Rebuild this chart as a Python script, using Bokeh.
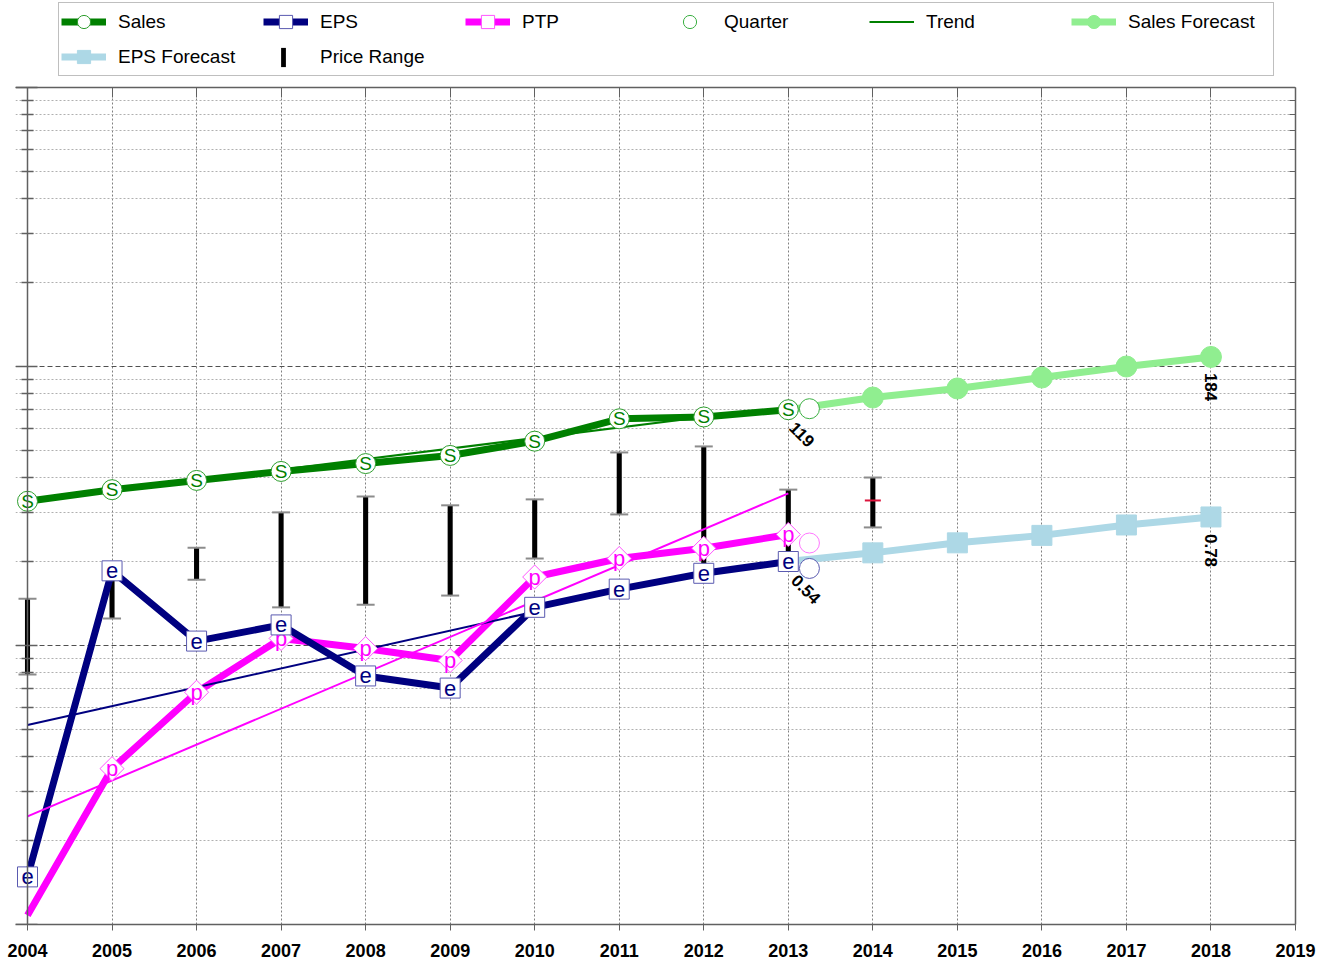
import math
from bokeh.plotting import figure
from bokeh.models import (Range1d, LogScale, LogAxis, LinearAxis, FixedTicker,
                          Legend, LegendItem, CustomJSTickFormatter)
from bokeh.core.properties import value
from bokeh.embed import file_html
from bokeh.resources import INLINE

# ---------------- data ----------------
years = [2004, 2005, 2006, 2007, 2008, 2009, 2010, 2011, 2012, 2013]
sales = [55.9, 61.5, 66.4, 71.5, 76.3, 81.6, 91.8, 110.4, 112.1, 119.0]
eps = [0.04, 0.50, 0.28, 0.32, 0.21, 0.19, 0.37, 0.43, 0.49, 0.54]
ptp = [1.08, 3.62, 6.80, 10.6, 9.75, 8.84, 17.6, 20.5, 22.3, 25.0]

quarter_x = [2013.25]
sales_quarter = [120.0]
eps_quarter = [0.51]
ptp_quarter = [23.3]

fc_years = [2013, 2014, 2015, 2016, 2017, 2018]
sales_fc = [119.0, 131.6, 141.8, 155.2, 170.0, 184.0]
eps_fc = [0.54, 0.58, 0.63, 0.67, 0.73, 0.78]

sales_trend_x = [2004, 2012]
sales_trend = [56.0, 112.0]
eps_trend_x = [2004, 2010]
eps_trend = [0.14, 0.357]
ptp_trend_x = [2004, 2013]
ptp_trend = [2.44, 35.1]

price_years = [2004, 2005, 2006, 2007, 2008, 2009, 2010, 2011, 2012, 2013, 2014]
price_high = [14.7, 19.8, 22.4, 30.0, 34.2, 31.8, 33.4, 49.2, 51.7, 36.2, 40.0]
price_low = [7.87, 12.5, 17.2, 13.7, 14.0, 15.1, 20.5, 29.5, 19.4, 21.4, 26.5]
current_year = [2014]
current_price = [33.1]

year_ticks = list(range(2004, 2020))

# ---------------- colours ----------------
GREEN = "#008000"
NAVY = "#000080"
MAGENTA = "#ff00ff"
LGREEN = "#90ee90"
LBLUE = "#add8e6"
AXIS = "#606060"
FONT = value("Liberation Sans")

# ---------------- layout constants ----------------
W, H = 1329, 964
FRAME_L, FRAME_R, FRAME_B = 15, 1295, 924
TOP_LINE = 87                      # pixel row of the top border (value 1000)
Y_LO, Y_HI = 1, 1000               # bordered value range (3 decades)
px_per_decade = (FRAME_B - TOP_LINE) / math.log10(Y_HI / Y_LO)
y_end = Y_HI * 10 ** (TOP_LINE / px_per_decade)   # frame reaches the canvas top
px_per_year = (FRAME_R - 27) / 15.0
x_start = 2004 - (27 - FRAME_L) / px_per_year

p = figure(width=W, height=H, output_backend="svg", toolbar_location=None,
           x_range=Range1d(x_start, 2019), y_range=Range1d(Y_LO, y_end),
           y_axis_type="log", min_border_left=FRAME_L, min_border_right=W - FRAME_R,
           min_border_top=0, min_border_bottom=H - FRAME_B)
p.outline_line_color = None
p.background_fill_color = "white"
p.border_fill_color = "white"

p.extra_y_ranges = {"sales": Range1d(1.7, 1.7 * y_end), "eps": Range1d(0.027, 0.027 * y_end)}
p.extra_y_scales = {"sales": LogScale(), "eps": LogScale()}

minor = [m * 10 ** e for e in range(0, 3) for m in range(2, 10)]
yticker = FixedTicker(ticks=[1, 10, 100, 1000], minor_ticks=minor)
xticker = FixedTicker(ticks=year_ticks)
blank = CustomJSTickFormatter(code="return ''")

# left axis fixed at 2004
ya = p.yaxis[0]
ya.ticker = yticker
ya.formatter = blank
ya.fixed_location = 2004
ya.bounds = (Y_LO, Y_HI)
ya.major_label_standoff = 0
ya.axis_line_color = AXIS
ya.axis_line_width = 1.5
ya.major_tick_line_color = AXIS
ya.minor_tick_line_color = AXIS
ya.major_tick_line_width = 1.5
ya.minor_tick_line_width = 1.5
ya.major_tick_in = 10
ya.major_tick_out = 12
ya.minor_tick_in = 6
ya.minor_tick_out = 6

# bottom axis
xa = p.xaxis[0]
xa.ticker = xticker
xa.axis_line_color = AXIS
xa.axis_line_width = 1.5
xa.major_tick_line_color = AXIS
xa.major_tick_in = 0
xa.major_tick_out = 6
xa.minor_tick_line_color = None
xa.major_label_text_font = "Liberation Sans"
xa.major_label_text_font_style = "bold"
xa.major_label_text_font_size = "18px"
xa.major_label_text_color = "black"
xa.major_label_standoff = 13

# top border axis (ticks only), fixed on the value 1000
ta = LinearAxis(ticker=xticker, formatter=blank, fixed_location=Y_HI,
                major_label_standoff=0, major_tick_in=10, major_tick_out=0,
                minor_tick_line_color=None, axis_line_color=AXIS,
                axis_line_width=1.5, major_tick_line_color=AXIS)
p.add_layout(ta, "above")

# right axis (ticks only)
ra = LogAxis(ticker=yticker, formatter=blank, bounds=(Y_LO, Y_HI),
             major_label_standoff=0, major_tick_in=6, major_tick_out=0,
             minor_tick_in=6, minor_tick_out=0, axis_line_color=AXIS,
             axis_line_width=1.5, major_tick_line_color=AXIS,
             minor_tick_line_color=AXIS)
p.add_layout(ra, "right")

# grids
p.xgrid.ticker = xticker
p.xgrid.grid_line_color = "#808080"
p.xgrid.grid_line_dash = "2 2"
try:
    p.xgrid.cross_bounds = (Y_LO, Y_HI)
except Exception:
    pass
p.ygrid.ticker = yticker
p.ygrid.bounds = (Y_LO, Y_HI)
p.ygrid.grid_line_color = "#505050"
p.ygrid.grid_line_dash = "5 3"
p.ygrid.minor_grid_line_color = "#b0b0b0"
p.ygrid.minor_grid_line_dash = "2 2"

# ---------------- price range ----------------
price_bar = p.vbar(x=price_years, top=price_high, bottom=price_low, width=0.06,
                   fill_color="black", line_color=None)
p.scatter(x=price_years, y=price_high, marker="dash", size=18,
          line_color="#8c8c8c", line_width=2)
p.scatter(x=price_years, y=price_low, marker="dash", size=18,
          line_color="#8c8c8c", line_width=2)
p.scatter(x=current_year, y=current_price, marker="dash", size=16,
          line_color="#dc143c", line_width=2)

# ---------------- main lines ----------------
sales_line = p.line(years, sales, y_range_name="sales", line_color=GREEN, line_width=7)
ptp_line = p.line(years, ptp, line_color=MAGENTA, line_width=7)
eps_line = p.line(years, eps, y_range_name="eps", line_color=NAVY, line_width=7)

sf_line = p.line(fc_years, sales_fc, y_range_name="sales", line_color=LGREEN, line_width=7)
ef_line = p.line(fc_years, eps_fc, y_range_name="eps", line_color=LBLUE, line_width=7)

# trends
sales_trend_line = p.line(sales_trend_x, sales_trend, y_range_name="sales",
                          line_color=GREEN, line_width=2)
p.line(eps_trend_x, eps_trend, y_range_name="eps", line_color=NAVY, line_width=2)
p.line(ptp_trend_x, ptp_trend, line_color=MAGENTA, line_width=2)

# forecast markers
sf_pts = p.scatter(fc_years[1:], sales_fc[1:], y_range_name="sales", marker="circle",
                   size=21, fill_color=LGREEN, line_color=LGREEN)
ef_pts = p.scatter(fc_years[1:], eps_fc[1:], y_range_name="eps", marker="square",
                   size=20, fill_color=LBLUE, line_color=LBLUE)

# series markers
sales_pts = p.scatter(years, sales, y_range_name="sales", marker="circle", size=20,
                      fill_color="white", line_color="#2e9e2e", line_width=1)
p.text(years, sales, text=value("S"), y_range_name="sales", text_color=GREEN,
       text_font=FONT, text_font_size="19px", text_align="center",
       text_baseline="middle")

ptp_pts = p.scatter(years[1:], ptp[1:], marker="square", angle=math.pi / 4, size=17,
                    fill_color="white", line_color="#ff55ff", line_width=1)
p.text(years[1:], ptp[1:], text=value("p"), text_color=MAGENTA, text_font=FONT,
       text_font_size="22px", text_align="center", text_baseline="middle")

eps_pts = p.scatter(years, eps, y_range_name="eps", marker="square", size=20,
                    fill_color="white", line_color="#5a5ab0", line_width=1)
p.text(years, eps, text=value("e"), y_range_name="eps", text_color=NAVY,
       text_font=FONT, text_font_size="22px", text_align="center",
       text_baseline="middle")

# quarter markers
sales_q = p.scatter(quarter_x, sales_quarter, y_range_name="sales", marker="circle",
                    size=20, fill_color="white", line_color="#3cb043", line_width=1)
p.scatter(quarter_x, ptp_quarter, marker="circle", size=20, fill_color="white",
          line_color="#ff77ff", line_width=1)
p.scatter(quarter_x, eps_quarter, y_range_name="eps", marker="circle", size=20,
          fill_color="white", line_color="#5a5ab0", line_width=1)

# value labels
def lab(x, y, rng, angle, xo, yo):
    kw = {} if rng is None else {"y_range_name": rng}
    p.text([x], [y], text=[f"{y:g}"], angle=angle, x_offset=xo, y_offset=yo,
           text_font=FONT, text_font_style="bold", text_font_size="17px",
           text_color="black", text_align="left", text_baseline="middle", **kw)

lab(years[-1], sales[-1], "sales", -math.pi / 4, 4, 15)
lab(years[-1], eps[-1], "eps", -math.pi / 4, 6, 16)
lab(fc_years[-1], sales_fc[-1], "sales", -math.pi / 2, 0, 16)
lab(fc_years[-1], eps_fc[-1], "eps", -math.pi / 2, 0, 17)

# ---------------- legends ----------------
legend = Legend(items=[
    LegendItem(label="Sales", renderers=[sales_line, sales_pts]),
    LegendItem(label="EPS", renderers=[eps_line, eps_pts]),
    LegendItem(label="PTP", renderers=[ptp_line, ptp_pts]),
    LegendItem(label="Quarter", renderers=[sales_q]),
    LegendItem(label="Trend", renderers=[sales_trend_line]),
    LegendItem(label="Sales Forecast", renderers=[sf_line, sf_pts]),
    LegendItem(label="EPS Forecast", renderers=[ef_line, ef_pts]),
], orientation="horizontal", ncols=6, location=(58 - FRAME_L, FRAME_B - 76),
    glyph_width=45, glyph_height=33, label_standoff=12, label_width=143,
    spacing=2, padding=2, margin=0,
    label_text_font="Liberation Sans", label_text_font_size="19px",
    label_text_color="black", border_line_color="#808080", border_line_width=1.5,
    background_fill_color="white", background_fill_alpha=1.0)
p.add_layout(legend)

legend2 = Legend(items=[LegendItem(label="Price Range", renderers=[price_bar])],
                 location=(280 - FRAME_L, FRAME_B - 69), glyph_width=6,
                 glyph_height=24, label_standoff=34, padding=0, margin=0,
                 label_text_font="Liberation Sans", label_text_font_size="19px",
                 label_text_color="black", border_line_color=None,
                 background_fill_alpha=0.0)
p.add_layout(legend2)

open("out.html", "w").write(file_html(p, INLINE))
